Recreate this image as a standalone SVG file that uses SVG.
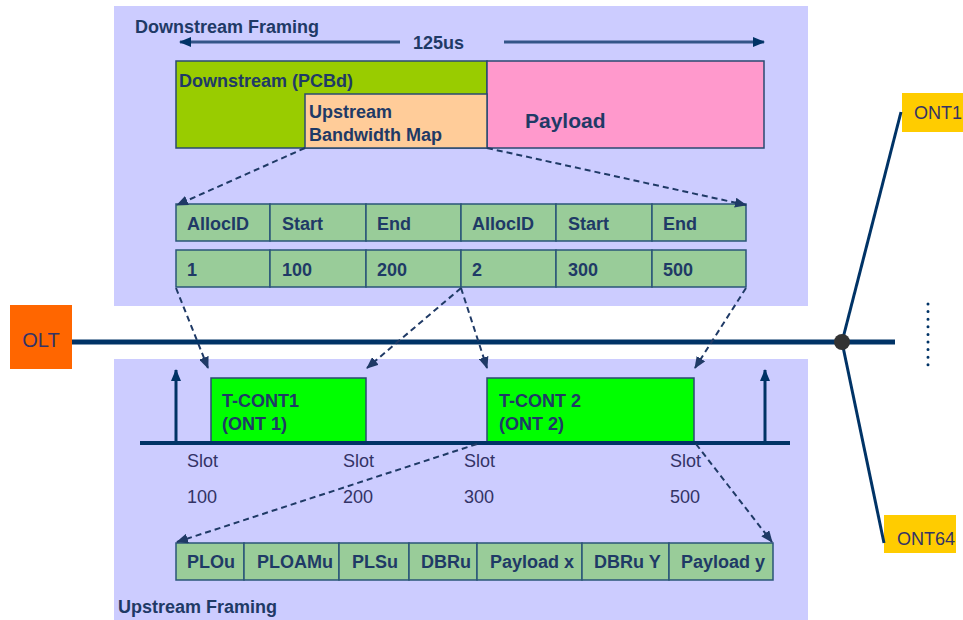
<svg xmlns="http://www.w3.org/2000/svg" width="963" height="620" viewBox="0 0 963 620">
<style>
.panel{fill:#CCCCFF;stroke:none}
.b{font-family:"Liberation Sans",Arial,sans-serif;font-weight:bold;font-size:18px;fill:#1F3A66}
.r{font-family:"Liberation Sans",Arial,sans-serif;font-size:18px;fill:#333366}
.cell{fill:#99CC99;stroke:#2A5578;stroke-width:1.5}
.box{stroke:#2A4A70;stroke-width:1.5}
.dash{fill:none;stroke:#1F3A66;stroke-width:2;stroke-dasharray:6 4;marker-end:url(#ah)}
.thick{stroke:#003366;stroke-width:5;fill:none}
.lbl{fill:#FFCC00}
</style>
<defs>
<marker id="ah" markerUnits="userSpaceOnUse" markerWidth="12" markerHeight="10" refX="11" refY="5" orient="auto">
<path d="M0,0 L12,5 L0,10 z" fill="#1F3A66"/>
</marker>
<marker id="ah2" markerUnits="userSpaceOnUse" markerWidth="12" markerHeight="10" refX="11" refY="5" orient="auto">
<path d="M0,0 L12,5 L0,10 z" fill="#003366"/>
</marker>
</defs>

<g id="downstream-panel">
<rect class="panel" x="114" y="6" width="694" height="300"/>
<text class="b" x="135" y="33">Downstream Framing</text>
<text class="b" x="413" y="49">125us</text>
</g>

<g id="upstream-panel">
<rect class="panel" x="114" y="359" width="694" height="261"/>
<text class="b" x="118" y="613">Upstream Framing</text>
</g>

<g id="pcbd">
<rect class="box" x="176" y="61" width="311" height="87" fill="#99CC00"/>
<text class="b" x="179" y="87">Downstream (PCBd)</text>
</g>
<g id="payload">
<rect class="box" x="487" y="61" width="277" height="87" fill="#FF99CC"/>
<text class="b" x="525" y="128" style="font-size:21px">Payload</text>
</g>
<g id="bwmap">
<rect class="box" x="305" y="94" width="182" height="54" fill="#FFCC99"/>
<text class="b" x="309" y="118">Upstream</text>
<text class="b" x="309" y="141">Bandwidth Map</text>
</g>

<g id="alloc-header">
<rect class="cell" x="176" y="204" width="94" height="37"/>
<rect class="cell" x="270" y="204" width="96" height="37"/>
<rect class="cell" x="366" y="204" width="95" height="37"/>
<rect class="cell" x="461" y="204" width="95" height="37"/>
<rect class="cell" x="556" y="204" width="96" height="37"/>
<rect class="cell" x="652" y="204" width="94" height="37"/>
<text class="b" x="187" y="230">AllocID</text>
<text class="b" x="282" y="230">Start</text>
<text class="b" x="377" y="230">End</text>
<text class="b" x="472" y="230">AllocID</text>
<text class="b" x="568" y="230">Start</text>
<text class="b" x="663" y="230">End</text>
</g>
<g id="alloc-values">
<rect class="cell" x="176" y="250" width="94" height="37"/>
<rect class="cell" x="270" y="250" width="96" height="37"/>
<rect class="cell" x="366" y="250" width="95" height="37"/>
<rect class="cell" x="461" y="250" width="95" height="37"/>
<rect class="cell" x="556" y="250" width="96" height="37"/>
<rect class="cell" x="652" y="250" width="94" height="37"/>
<text class="b" x="187" y="276">1</text>
<text class="b" x="282" y="276">100</text>
<text class="b" x="377" y="276">200</text>
<text class="b" x="472" y="276">2</text>
<text class="b" x="568" y="276">300</text>
<text class="b" x="663" y="276">500</text>
</g>

<g id="olt">
<rect x="10" y="305" width="62" height="64" fill="#FF6600"/>
<text class="r" x="41" y="347" text-anchor="middle" style="font-size:20px">OLT</text>
</g>
<g id="ont1">
<rect class="lbl" x="902" y="93" width="61" height="39"/>
<text class="r" x="914" y="119">ONT1</text>
</g>
<g id="ont64">
<rect class="lbl" x="884" y="515" width="72" height="38"/>
<text class="r" x="897" y="545">ONT64</text>
</g>

<g id="tcont1">
<rect class="box" x="211" y="378" width="155" height="65" fill="#00FF00"/>
<text class="b" x="222" y="407">T-CONT1</text>
<text class="b" x="222" y="430">(ONT 1)</text>
</g>
<g id="tcont2">
<rect class="box" x="487" y="378" width="207" height="65" fill="#00FF00"/>
<text class="b" x="499" y="407">T-CONT 2</text>
<text class="b" x="499" y="430">(ONT 2)</text>
</g>

<g id="slots">
<text class="r" x="187" y="467">Slot</text>
<text class="r" x="343" y="467">Slot</text>
<text class="r" x="464" y="467">Slot</text>
<text class="r" x="670" y="467">Slot</text>
<text class="r" x="187" y="503">100</text>
<text class="r" x="343" y="503">200</text>
<text class="r" x="464" y="503">300</text>
<text class="r" x="670" y="503">500</text>
</g>

<g id="upstream-frame">
<rect class="cell" x="176" y="543" width="68" height="37"/>
<rect class="cell" x="244" y="543" width="95" height="37"/>
<rect class="cell" x="339" y="543" width="70" height="37"/>
<rect class="cell" x="409" y="543" width="68" height="37"/>
<rect class="cell" x="477" y="543" width="105" height="37"/>
<rect class="cell" x="582" y="543" width="87" height="37"/>
<rect class="cell" x="669" y="543" width="104" height="37"/>
<text class="b" x="187" y="568">PLOu</text>
<text class="b" x="257" y="568">PLOAMu</text>
<text class="b" x="352" y="568">PLSu</text>
<text class="b" x="421" y="568">DBRu</text>
<text class="b" x="490" y="568">Payload x</text>
<text class="b" x="594" y="568">DBRu Y</text>
<text class="b" x="681" y="568">Payload y</text>
</g>

<g id="connectors">
<line x1="400" y1="42" x2="180" y2="42" stroke="#335588" stroke-width="3" marker-end="url(#ah2)"/>
<line x1="504" y1="42" x2="764" y2="42" stroke="#335588" stroke-width="3" marker-end="url(#ah2)"/>
<line class="thick" x1="72" y1="342" x2="895" y2="342"/>
<line x1="842" y1="342" x2="901" y2="112" stroke="#003366" stroke-width="3"/>
<line x1="842" y1="342" x2="884" y2="543" stroke="#003366" stroke-width="3"/>
<circle cx="842" cy="342" r="8" fill="#333333"/>
<line x1="928" y1="304" x2="928" y2="365" stroke="#003366" stroke-width="3" stroke-dasharray="0 7.6" stroke-linecap="round"/>
<line x1="140" y1="443" x2="790" y2="443" stroke="#003366" stroke-width="4"/>
<line x1="176" y1="443" x2="176" y2="370" stroke="#003366" stroke-width="3" marker-end="url(#ah2)"/>
<line x1="765" y1="443" x2="765" y2="370" stroke="#003366" stroke-width="3" marker-end="url(#ah2)"/>
<line class="dash" x1="305" y1="148" x2="177" y2="205"/>
<line class="dash" x1="487" y1="148" x2="746" y2="205"/>
<line class="dash" x1="176" y1="288" x2="208" y2="368"/>
<line class="dash" x1="461" y1="288" x2="367" y2="368"/>
<line class="dash" x1="461" y1="288" x2="487" y2="368"/>
<line class="dash" x1="746" y1="288" x2="695" y2="368"/>
<line class="dash" x1="477" y1="444" x2="177" y2="542"/>
<line class="dash" x1="696" y1="444" x2="772" y2="542"/>
</g>
</svg>
